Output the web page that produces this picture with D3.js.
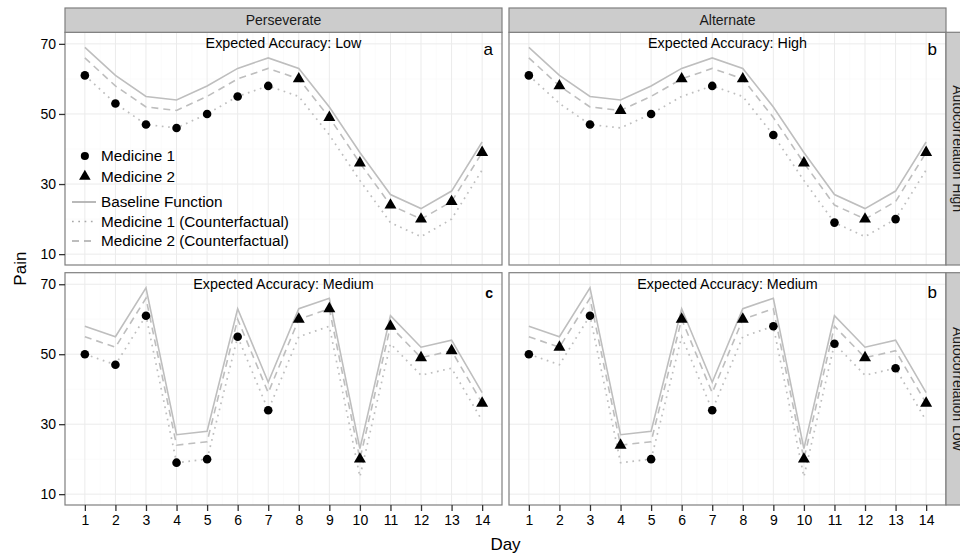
<!DOCTYPE html>
<html>
<head>
<meta charset="utf-8">
<script src="https://cdn.jsdelivr.net/npm/d3@7"></script>
<style>
  body { margin: 0; background: #fff; }
  text { font-family: 'Liberation Sans', Arial, sans-serif; }
</style>
</head>
<body>
<div id="graf"></div>
<script>
// Pain by day, facets: strategy (columns) x autocorrelation (rows)

// Data
days = [1, 2, 3, 4, 5, 6, 7, 8, 9, 10, 11, 12, 13, 14]

baseHigh = [69, 61, 55, 54, 58, 63, 66, 63, 52, 39, 27, 23, 28, 42]
med1High = [61, 53, 47, 46, 50, 55, 58, 55, 44, 31, 19, 15, 20, 34]
med2High = [66, 58, 52, 51, 55, 60, 63, 60, 49, 36, 24, 20, 25, 39]

baseLow = [58, 55, 69, 27, 28, 63, 42, 63, 66, 23, 61, 52, 54, 39]
med1Low = [50, 47, 61, 19, 20, 55, 34, 55, 58, 15, 53, 44, 46, 31]
med2Low = [55, 52, 66, 24, 25, 60, 39, 60, 63, 20, 58, 49, 51, 36]

// medicine taken each day and the pain observed
choiceA = [1, 1, 1, 1, 1, 1, 1, 2, 2, 2, 2, 2, 2, 2]
painA   = [61, 53, 47, 46, 50, 55, 58, 60, 49, 36, 24, 20, 25, 39]
choiceB = [1, 2, 1, 2, 1, 2, 1, 2, 1, 2, 1, 2, 1, 2]
painB   = [61, 58, 47, 51, 50, 60, 58, 60, 44, 36, 19, 20, 20, 39]
choiceC = [1, 1, 1, 1, 1, 1, 1, 2, 2, 2, 2, 2, 2, 2]
painC   = [50, 47, 61, 19, 20, 55, 34, 60, 63, 20, 58, 49, 51, 36]
choiceD = [1, 2, 1, 2, 1, 2, 1, 2, 1, 2, 1, 2, 1, 2]
painD   = [50, 52, 61, 24, 20, 60, 34, 60, 58, 20, 53, 49, 46, 36]

colLabels = ['Perseverate', 'Alternate']
rowLabels = ['Autocorrelation High', 'Autocorrelation Low']
yTicks = [10, 30, 50, 70]
yMinor = [20, 40, 60]

panels = [
  { col: 0, row: 0, base: baseHigh, m1: med1High, m2: med2High, choice: choiceA, pain: painA, title: 'Expected Accuracy: Low', letter: 'a' },
  { col: 1, row: 0, base: baseHigh, m1: med1High, m2: med2High, choice: choiceB, pain: painB, title: 'Expected Accuracy: High', letter: 'b' },
  { col: 0, row: 1, base: baseLow, m1: med1Low, m2: med2Low, choice: choiceC, pain: painC, title: 'Expected Accuracy: Medium', letter: 'c' },
  { col: 1, row: 1, base: baseLow, m1: med1Low, m2: med2Low, choice: choiceD, pain: painD, title: 'Expected Accuracy: Medium', letter: 'b' }
]

// Layout
W = 960
H = 554
colX = [[65, 502], [509, 946]]
rowY = [[32.3, 265], [272.7, 505]]
stripTop = 8
stripRight = 970

lineGrey = '#bebebe'
borderGrey = '#7f7f7f'

svg = d3.select('#graf').append('svg')
  .attr('width', W)
  .attr('height', H)

svg.append('rect').attr('width', W).attr('height', H).attr('fill', '#fff')

xs = colX.map(c => d3.scaleLinear().domain([0.35, 14.65]).range(c))
ys = rowY.map(r => d3.scaleLinear().domain([6.9, 73.3]).range([r[1], r[0]]))

minorX = days.slice(0, -1).map(d => d + 0.5)

panels.forEach(p => {
  x = xs[p.col]
  y = ys[p.row]
  x0 = colX[p.col][0], x1 = colX[p.col][1]
  y0 = rowY[p.row][0], y1 = rowY[p.row][1]

  g = svg.append('g')

  g.append('rect')
    .attr('x', x0).attr('y', y0)
    .attr('width', x1 - x0).attr('height', y1 - y0)
    .attr('fill', '#fff')

  // grid
  g.selectAll('.minY').data(yMinor).enter().append('line')
    .attr('x1', x0).attr('x2', x1)
    .attr('y1', d => y(d)).attr('y2', d => y(d))
    .attr('stroke', '#fafafa').attr('stroke-width', 0.8)
  g.selectAll('.minX').data(minorX).enter().append('line')
    .attr('y1', y0).attr('y2', y1)
    .attr('x1', d => x(d)).attr('x2', d => x(d))
    .attr('stroke', '#fafafa').attr('stroke-width', 0.8)
  g.selectAll('.majY').data(yTicks).enter().append('line')
    .attr('x1', x0).attr('x2', x1)
    .attr('y1', d => y(d)).attr('y2', d => y(d))
    .attr('stroke', '#ebebeb').attr('stroke-width', 1)
  g.selectAll('.majX').data(days).enter().append('line')
    .attr('y1', y0).attr('y2', y1)
    .attr('x1', d => x(d)).attr('x2', d => x(d))
    .attr('stroke', '#ebebeb').attr('stroke-width', 1)

  line = d3.line().x((d, i) => x(days[i])).y(d => y(d))

  g.append('path').attr('d', line(p.m1))
    .attr('fill', 'none').attr('stroke', lineGrey).attr('stroke-width', 1.7)
    .attr('stroke-dasharray', '1.7,4.6')
  g.append('path').attr('d', line(p.m2))
    .attr('fill', 'none').attr('stroke', lineGrey).attr('stroke-width', 1.6)
    .attr('stroke-dasharray', '7,5')
  g.append('path').attr('d', line(p.base))
    .attr('fill', 'none').attr('stroke', lineGrey).attr('stroke-width', 1.6)

  // observed points
  g.selectAll('.pt').data(days).enter().append('path')
    .attr('transform', (d, i) => `translate(${x(d)},${y(p.pain[i])})`)
    .attr('d', (d, i) => d3.symbol()
      .type(p.choice[i] == 1 ? d3.symbolCircle : d3.symbolTriangle)
      .size(p.choice[i] == 1 ? 58 : 62)())
    .attr('fill', '#000')

  // annotations
  g.append('text')
    .attr('x', (x0 + x1) / 2).attr('y', y(70.2))
    .attr('dy', '0.35em')
    .attr('text-anchor', 'middle')
    .attr('font-size', '14.3px')
    .text(p.title)

  g.append('text')
    .attr('x', x1 - 9).attr('y', p.row == 0 ? y0 + 23 : y0 + 25)
    .attr('text-anchor', 'end')
    .attr('font-size', p.letter == 'c' ? '14px' : '17px')
    .attr('font-weight', p.letter == 'c' ? 'bold' : 'normal')
    .text(p.letter)

  g.append('rect')
    .attr('x', x0).attr('y', y0)
    .attr('width', x1 - x0).attr('height', y1 - y0)
    .attr('fill', 'none').attr('stroke', borderGrey).attr('stroke-width', 1.2)
})

// strips
colLabels.forEach((lab, i) => {
  svg.append('rect')
    .attr('x', colX[i][0]).attr('y', stripTop)
    .attr('width', colX[i][1] - colX[i][0]).attr('height', rowY[0][0] - stripTop)
    .attr('fill', '#cccccc').attr('stroke', borderGrey).attr('stroke-width', 1.2)
  svg.append('text')
    .attr('x', (colX[i][0] + colX[i][1]) / 2).attr('y', (stripTop + rowY[0][0]) / 2)
    .attr('dy', '0.35em').attr('text-anchor', 'middle')
    .attr('font-size', '14px').attr('fill', '#1a1a1a')
    .text(lab)
})

// row strips run past the right edge of the page, as in the original
rowLabels.forEach((lab, i) => {
  svg.append('rect')
    .attr('x', colX[1][1]).attr('y', rowY[i][0])
    .attr('width', stripRight - colX[1][1]).attr('height', rowY[i][1] - rowY[i][0])
    .attr('fill', '#cccccc').attr('stroke', borderGrey).attr('stroke-width', 1.2)
  cx = (colX[1][1] + stripRight) / 2
  cy = (rowY[i][0] + rowY[i][1]) / 2
  svg.append('text')
    .attr('transform', `translate(${cx},${cy}) rotate(90)`)
    .attr('dy', '0.35em').attr('text-anchor', 'middle')
    .attr('font-size', '14px').attr('fill', '#1a1a1a')
    .text(lab)
})

// axes
rowY.forEach((r, i) => {
  ax = svg.append('g')
    .attr('transform', `translate(${colX[0][0]},0)`)
    .call(d3.axisLeft(ys[i]).tickValues(yTicks).tickSize(6).tickPadding(3))
  ax.select('.domain').remove()
  ax.selectAll('line').attr('stroke', '#333').attr('stroke-width', 1.3)
  ax.selectAll('text').attr('font-size', '14px').attr('fill', '#000')
    .attr('font-family', "'Liberation Sans', Arial, sans-serif")
})

colX.forEach((c, i) => {
  ax = svg.append('g')
    .attr('transform', `translate(0,${rowY[1][1]})`)
    .call(d3.axisBottom(xs[i]).tickValues(days).tickSize(6).tickPadding(4))
  ax.select('.domain').remove()
  ax.selectAll('line').attr('stroke', '#333').attr('stroke-width', 1.3)
  ax.selectAll('text').attr('font-size', '14px').attr('fill', '#000')
    .attr('font-family', "'Liberation Sans', Arial, sans-serif")
})

svg.append('text')
  .attr('x', (colX[0][0] + colX[1][1]) / 2).attr('y', 550)
  .attr('text-anchor', 'middle').attr('font-size', '17px')
  .text('Day')

svg.append('text')
  .attr('transform', `translate(26,${(rowY[0][0] + rowY[1][1]) / 2}) rotate(-90)`)
  .attr('text-anchor', 'middle').attr('font-size', '17px')
  .text('Pain')

// legend inside the first panel
lx = xs[0](1)
legPts = [
  { label: 'Medicine 1', type: d3.symbolCircle, yy: 156 },
  { label: 'Medicine 2', type: d3.symbolTriangle, yy: 176.5 }
]
legLines = [
  { label: 'Baseline Function', dash: null, yy: 202 },
  { label: 'Medicine 1 (Counterfactual)', dash: '1.7,4.6', yy: 221.5 },
  { label: 'Medicine 2 (Counterfactual)', dash: '7,5', yy: 241 }
]

legPts.forEach(d => {
  svg.append('path')
    .attr('transform', `translate(${lx},${d.yy})`)
    .attr('d', d3.symbol().type(d.type).size(d.type == d3.symbolCircle ? 52 : 58)())
    .attr('fill', '#000')
  svg.append('text')
    .attr('x', 101).attr('y', d.yy).attr('dy', '0.35em')
    .attr('font-size', '15.3px')
    .text(d.label)
})

legLines.forEach(d => {
  svg.append('line')
    .attr('x1', 72).attr('x2', 96)
    .attr('y1', d.yy).attr('y2', d.yy)
    .attr('stroke', '#a8a8a8').attr('stroke-width', 1.6)
    .attr('stroke-dasharray', d.dash)
  svg.append('text')
    .attr('x', 101).attr('y', d.yy).attr('dy', '0.35em')
    .attr('font-size', '15.3px')
    .text(d.label)
})
</script>
</body>
</html>
